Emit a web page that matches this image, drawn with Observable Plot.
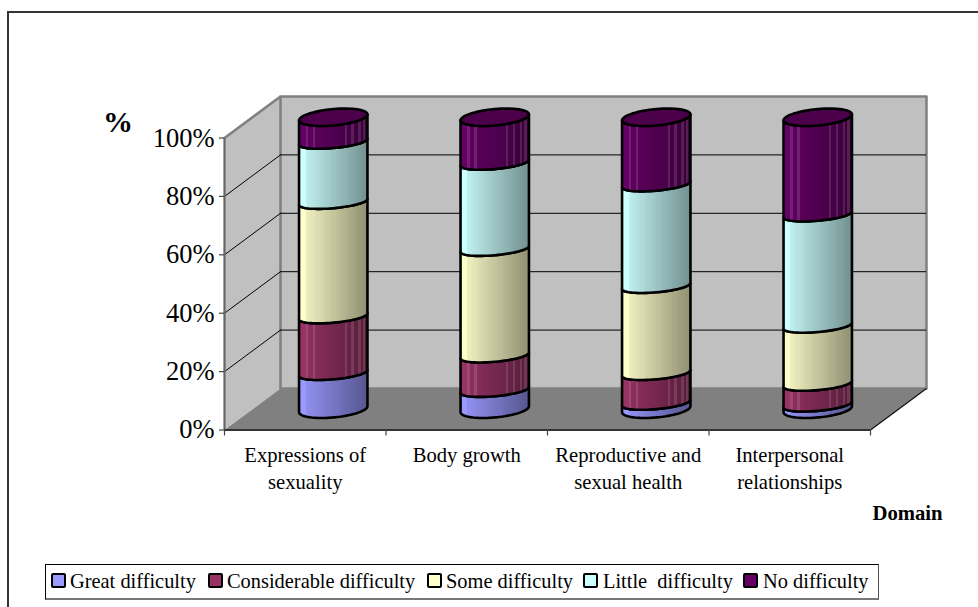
<!DOCTYPE html>
<html>
<head>
<meta charset="utf-8">
<script src="https://cdn.jsdelivr.net/npm/d3@7"></script>
<script src="https://cdn.jsdelivr.net/npm/@observablehq/plot@0.6"></script>
<style>
  html, body { margin: 0; padding: 0; background: #fff; overflow: hidden; }
  #page { position: relative; width: 978px; height: 607px; font-family: "Liberation Serif", serif; color: #000; }
  #chart { position: absolute; left: 0; top: 0; width: 978px; height: 607px; }
  #chart svg { display: block; }
  #frame { position: absolute; left: 7px; top: 11px; right: 0; bottom: 0; border-left: 2px solid #333; border-top: 2px solid #333; }
  #legend { position: absolute; left: 45px; top: 564px; width: 832px; height: 33px; background: #fff;
            border: 1px solid #000; border-right: 1px solid #555; border-bottom: 2px solid #777; }
  .sw { position: absolute; top: 8px; width: 11px; height: 11px; border: 2px solid #000; border-radius: 2px; }
  .lb { position: absolute; top: 5px; font-size: 20.4px; line-height: 22px; white-space: pre; }
</style>
</head>
<body>
<div id="page">
  <div id="frame"></div>
  <div id="chart"></div>
  <div id="legend"></div>
</div>
<script>
const categories = ["Expressions of\nsexuality", "Body growth", "Reproductive and\nsexual health", "Interpersonal\nrelationships"];
const seriesNames = ["Great difficulty", "Considerable difficulty", "Some difficulty", "Little  difficulty", "No difficulty"];
const seriesColors = ["#9999ff", "#993366", "#ffffcc", "#ccffff", "#660066"];
const great        = [12.4, 6.6, 2.2, 1.6];
const considerable = [19.4, 11.8, 10.2, 7.1];
const some         = [39.2, 36.5, 29.8, 19.9];
const little       = [20.6, 29.5, 34.8, 38.1];
const none         = [8.4, 15.6, 23.0, 33.3];
const yTicks = [0, 20, 40, 60, 80, 100];

// Oblique projection of the chart box, in the units of the x and y scales
const depthX = 0.3467, depthY = 14.22;
const xEnd = categories.length;
const radiusX = 0.2118, tiltY = 1.03;

const allSeries = [great, considerable, some, little, none];

function arc(i, level, from, to) {
  const radiusY = level < 0.01 || level > 99.99 ? 2.8 : 2.15;
  const cx = i + 0.5 + depthX / 2, cy = level + depthY / 2, out = [];
  const n = 32;
  for (let k = 0; k <= n; k++) {
    const t = from + (to - from) * k / n;
    out.push({ x: cx + radiusX * Math.cos(t), y: cy + tiltY * Math.cos(t) - radiusY * Math.sin(t), z: i });
  }
  return out;
}
function segment(s, i) {
  const y0 = d3.sum(allSeries.slice(0, s), a => a[i]);
  const y1 = y0 + allSeries[s][i];
  const top = arc(i, y1, Math.PI, 0), bottom = arc(i, y0, 0, Math.PI);
  return [...top, ...bottom, top[0]];
}

function shade(hex, k) {
  const c = d3.rgb(hex);
  return d3.rgb(c.r * k, c.g * k, c.b * k).formatHex();
}
function gradients() {
  const defs = d3.create("svg:defs");
  seriesColors.forEach((color, s) => {
    const g = defs.append("linearGradient").attr("id", "cyl" + s).attr("x1", 0).attr("x2", 1).attr("y1", 0).attr("y2", 0);
    const bands = 30;
    const darkFill = s === 1 || s === 4;
    const stripes = darkFill ? new Set([3, 6, 20, 23, 26, 28]) : new Set();
    for (let b = 0; b < bands; b++) {
      const k = b < 3 ? 1 : 0.93 - 0.36 * (b - 3) / (bands - 4);
      let fill = shade(color, k);
      if (stripes.has(b)) fill = d3.interpolateRgb(fill, "#fff")(0.12);
      g.append("stop").attr("offset", b / bands).attr("stop-color", fill);
      g.append("stop").attr("offset", (b + 1) / bands).attr("stop-color", fill);
    }
  });
  return defs.node();
}

const backWall = [[depthX, depthY], [xEnd + depthX, depthY], [xEnd + depthX, 100 + depthY], [depthX, 100 + depthY], [depthX, depthY]];
const sideWall = [[0, 0], [depthX, depthY], [depthX, 100 + depthY], [0, 100], [0, 0]];
const floor = [[0, 0], [xEnd, 0], [xEnd + depthX, depthY], [depthX, depthY], [0, 0]];
const gridTicks = yTicks.filter(v => v > 0 && v < 100);

const cylinderMarks = [];
allSeries.forEach((_, s) => {
  const pts = categories.flatMap((_, i) => segment(s, i));
  cylinderMarks.push(Plot.line(pts, { x: "x", y: "y", z: "z", fill: `url(#cyl${s})`, stroke: "#000", strokeWidth: 2.6, strokeLinejoin: "round" }));
});
const caps = categories.flatMap((_, i) => arc(i, 100, 0, 2 * Math.PI));
cylinderMarks.push(Plot.line(caps, { x: "x", y: "y", z: "z", fill: "#4c004c", stroke: "#000", strokeWidth: 2.6, strokeLinejoin: "round" }));

const chart = Plot.plot({
  width: 978,
  height: 607,
  marginLeft: 224,
  marginRight: 52,
  marginTop: 96,
  marginBottom: 177.5,
  x: { domain: [0, xEnd + depthX] },
  y: { domain: [0, 100 + depthY] },
  style: { fontFamily: "'Liberation Serif', serif", background: "transparent", color: "#000", overflow: "visible" },
  marks: [
    gradients,
    Plot.line(sideWall, { x: d => d[0], y: d => d[1], fill: "#c0c0c0", stroke: "none" }),
    Plot.line(backWall, { x: d => d[0], y: d => d[1], fill: "#c0c0c0", stroke: "#808080", strokeWidth: 2.5 }),
    Plot.line(floor, { x: d => d[0], y: d => d[1], fill: "#808080", stroke: "none" }),
    // grid on the back wall and the side wall
    Plot.ruleY(gridTicks, { x1: depthX, x2: xEnd + depthX, y: d => d + depthY, stroke: "#000", strokeWidth: 1 }),
    Plot.link(gridTicks, { x1: 0, x2: depthX, y1: d => d, y2: d => d + depthY, stroke: "#000", strokeWidth: 1 }),
    // box edges
    Plot.link([100], { x1: 0, x2: depthX, y1: d => d, y2: d => d + depthY, stroke: "#808080", strokeWidth: 2.5 }),
    Plot.link([0], { x1: xEnd, x2: xEnd + depthX, y1: d => d, y2: d => d + depthY, stroke: "#111", strokeWidth: 1.2 }),
    Plot.ruleX([0], { y1: 0, y2: 100, stroke: "#666", strokeWidth: 2.2 }),
    Plot.ruleY([0], { x1: 0, x2: xEnd, stroke: "#333", strokeWidth: 2 }),
    // axes
    Plot.axisY({ ticks: yTicks, tickFormat: d => d + "%", tickSize: 5, tickPadding: 5, fontSize: 26.5, stroke: "#444", label: null, strokeWidth: 1.2, fontVariant: "normal" }),
    Plot.axisX({ ticks: d3.range(xEnd + 1), tickFormat: () => "", tickSize: 6, stroke: "#444", label: null, strokeWidth: 1.2 }),
    ...cylinderMarks,
    // category labels
    Plot.text(categories, { x: (d, i) => i + 0.5, y: 0, text: d => d, dy: 13, lineAnchor: "top", lineHeight: 1.31, fontSize: 20.6, textAnchor: "middle", fill: "#000" }),
    Plot.text(["%"], { x: 0, y: 100, dx: -106.5, dy: -15.5, fontSize: 30, fontWeight: "bold", fill: "#000" }),
    Plot.text(["Domain"], { x: xEnd, y: 0, dx: 37, dy: 83, fontSize: 20.7, fontWeight: "bold", fill: "#000" })
  ]
});
document.getElementById("chart").appendChild(chart);

const swatchLeft = [5, 162, 381, 537, 697];
const labelLeft = [24, 181, 400, 557, 717];
const legend = d3.select("#legend");
seriesNames.forEach((name, s) => {
  legend.append("div").attr("class", "sw").style("left", swatchLeft[s] + "px").style("background", seriesColors[s]);
  legend.append("div").attr("class", "lb").style("left", labelLeft[s] + "px").text(name);
});
</script>
</body>
</html>
